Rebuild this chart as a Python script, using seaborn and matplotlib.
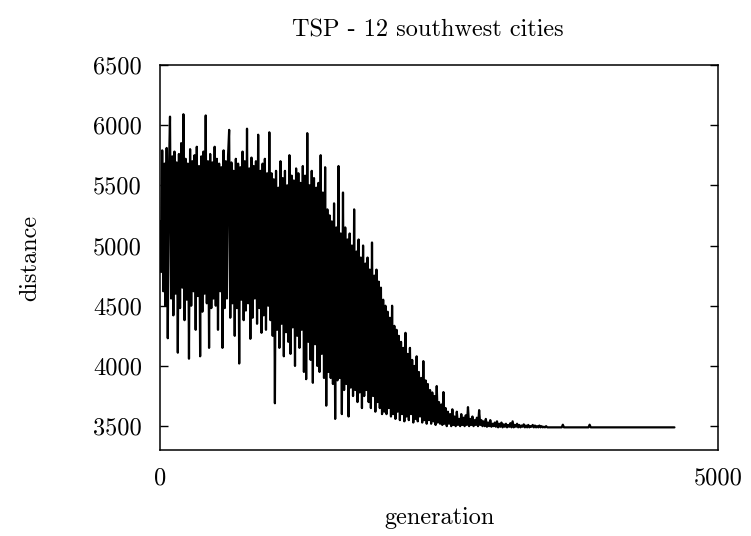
import numpy as np
import pandas as pd
import matplotlib
matplotlib.use("Agg")
import matplotlib.pyplot as plt
import seaborn as sns

# ---- data (one value every 10 generations) ----
gen_step = 10
dist_0000 = [5200, 4780, 5790, 4620, 5680, 4500, 5810, 4230, 5600, 6070,
             4560, 5740, 4420, 5780, 4600, 5690, 4110, 5760, 4480, 5850,
             4650, 6090, 4380, 5720, 4550, 5680, 4060, 5800, 4500, 5700,
             4620, 5750, 4300, 5820, 4580, 5660, 4080, 5740, 4450, 5780,
             4600, 6080, 4520, 5700, 4150, 5760, 4480, 5690, 4560, 5820]
dist_0500 = [4500, 5720, 4300, 5680, 4620, 5650, 4150, 5790, 4480, 5700,
             4560, 5740, 5960, 4400, 5690, 4520, 5620, 4250, 5720, 4480,
             5680, 4020, 5650, 4550, 5780, 4380, 5700, 4460, 5970, 4520,
             5640, 4225, 5730, 4400, 5660, 4560, 5700, 4350, 5920, 4480,
             5620, 4275, 5680, 4420, 5720, 4300, 5600, 4500, 5940, 4380]
dist_1000 = [5600, 4250, 5550, 3690, 5620, 4300, 5480, 4150, 5700, 4350,
             5560, 4080, 5620, 4280, 5500, 4200, 5750, 4100, 5580, 4320,
             5540, 4000, 5640, 4250, 5600, 4150, 5520, 4300, 5660, 3950,
             5580, 3890, 5933, 4200, 5500, 4050, 5620, 3860, 5560, 4180,
             5480, 4000, 5520, 3950, 5750, 4100, 5440, 3900, 5650, 3670]
dist_1500 = [5300, 3950, 5250, 3900, 5200, 3850, 5350, 3560, 5150, 3880,
             5660, 3900, 5100, 3600, 5440, 3800, 5150, 3850, 5050, 3580,
             5100, 3820, 5000, 3750, 5300, 3800, 4950, 3700, 5050, 3780,
             4900, 3650, 5000, 3750, 4850, 3800, 4900, 3700, 4800, 3650,
             5025, 3750, 4750, 3620, 4800, 3700, 4700, 3650, 4650, 3600]
dist_2000 = [4550, 3620, 4500, 3600, 4450, 3650, 4400, 3580, 4500, 3600,
             4333, 3560, 4300, 3620, 4250, 3550, 4200, 3600, 4150, 3540,
             4275, 3580, 4100, 3550, 4150, 3600, 4050, 3530, 4000, 3560,
             4080, 3540, 3950, 3580, 3900, 3530, 4040, 3550, 3880, 3520,
             3850, 3550, 3800, 3520, 3780, 3540, 3750, 3510, 3833, 3530]
dist_2500 = [3700, 3520, 3680, 3510, 3783, 3520, 3650, 3500, 3620, 3520,
             3600, 3500, 3640, 3510, 3580, 3500, 3620, 3510, 3560, 3500,
             3600, 3510, 3570, 3500, 3590, 3510, 3658, 3500, 3560, 3510,
             3580, 3500, 3550, 3510, 3570, 3500, 3633, 3510, 3550, 3500,
             3540, 3500, 3560, 3495, 3530, 3500, 3550, 3495, 3520, 3500]
dist_3000 = [3530, 3495, 3540, 3490, 3520, 3495, 3530, 3490, 3515, 3495,
             3520, 3490, 3510, 3495, 3525, 3490, 3540, 3490, 3510, 3495,
             3520, 3490, 3510, 3490, 3505, 3495, 3515, 3490, 3505, 3490,
             3510, 3490, 3500, 3495, 3510, 3490, 3505, 3490, 3500, 3490,
             3505, 3490, 3500, 3490, 3495, 3490, 3500, 3490, 3490, 3490]
tail_gens = [3500, 3600, 3610, 3620, 3840, 3850, 3860, 4610]
tail_dist = [3490, 3490, 3512, 3490, 3490, 3512, 3490, 3490]

title = "TSP - 12 southwest cities"
xlabel = "generation"
ylabel = "distance"
yticks = [3500, 4000, 4500, 5000, 5500, 6000, 6500]
xticks = [0, 5000]

# ---- build table ----
dense = dist_0000 + dist_0500 + dist_1000 + dist_1500 + dist_2000 + dist_2500 + dist_3000
gens = [i * gen_step for i in range(len(dense))] + tail_gens
dists = dense + tail_dist
df = pd.DataFrame({"generation": gens, "distance": dists})

sns.set_theme(style="white")
plt.rcParams["font.family"] = ["cmr10", "DejaVu Serif"]
plt.rcParams["axes.formatter.use_mathtext"] = True

FS = 17.5
fig = plt.figure(figsize=(7.51, 5.36), dpi=100)
ax = fig.add_axes([0.213, 0.160, 0.743, 0.719])

sns.lineplot(data=df, x="generation", y="distance", estimator=None, sort=False,
             color="black", linewidth=1.6, ax=ax)

ax.set_xlim(0, 5000)
ax.set_ylim(3300, 6500)
ax.set_xticks(xticks)
ax.set_xticklabels([str(t) for t in xticks])
ax.set_yticks(yticks)
ax.set_yticklabels([str(t) for t in yticks])
ax.tick_params(axis="y", direction="in", length=6, width=1.0, color="black",
               left=True, right=True, pad=13, labelsize=FS, labelcolor="black")
ax.tick_params(axis="x", length=0, pad=12, labelsize=FS, labelcolor="black")
for s in ax.spines.values():
    s.set_visible(True)
    s.set_color("black")
    s.set_linewidth(1.1)
ax.set_xlabel("")
ax.set_ylabel("")

fig.text(0.570, 0.944, title, ha="center", va="center", fontsize=FS, color="black")
fig.text(0.585, 0.033, xlabel, ha="center", va="center", fontsize=FS, color="black")
fig.text(0.040, 0.518, ylabel, ha="center", va="center", rotation=90, fontsize=FS, color="black")

fig.savefig("out.png", dpi=100)
